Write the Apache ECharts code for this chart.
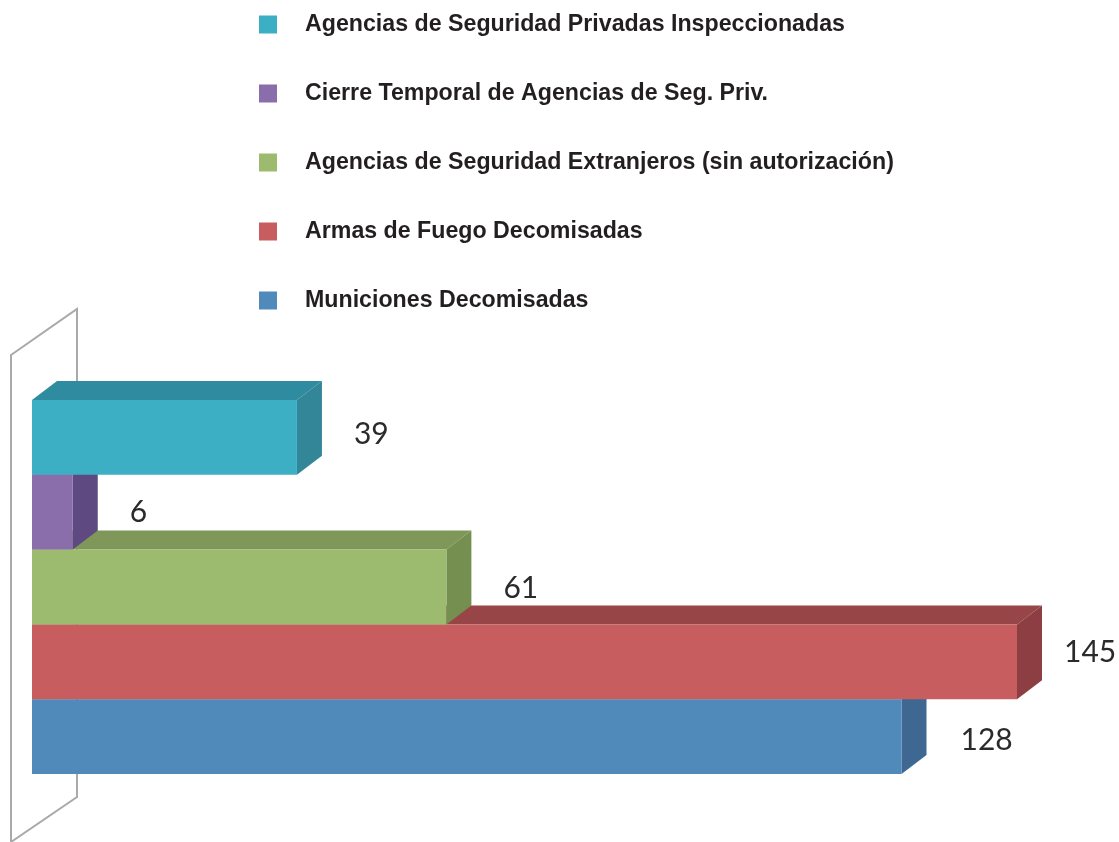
<!DOCTYPE html>
<html>
<head>
<meta charset="utf-8">
<style>html,body{margin:0;padding:0;background:#fff}#c{width:1119px;height:842px}</style>
<script src="https://cdn.jsdelivr.net/npm/echarts@6/dist/echarts.min.js"></script>
</head>
<body>
<div id="c"></div>
<script>
const seriesNames = [
  'Agencias de Seguridad Privadas Inspeccionadas',
  'Cierre Temporal de Agencias de Seg. Priv.',
  'Agencias de Seguridad Extranjeros (sin autorización)',
  'Armas de Fuego Decomisadas',
  'Municiones Decomisadas'
];
const seriesValues = [39, 6, 61, 145, 128];
const frontColors = ['#3cafc5', '#8a6dab', '#9dbb6e', '#c75d5f', '#4f8aba'];
const topColors   = ['#2f8ca0', '#6d5489', '#7f9859', '#984548', '#3f6e96'];
const sideColors  = ['#338598', '#5e4a80', '#748f50', '#8d3e42', '#3e6892'];
const labelNudges = [[57, -3], [57, 0], [57, 1], [47, -9], [59, 4]];
const depth = [25, -19];

function renderBar(i) {
  return function (params, api) {
    const v = api.value(0), c = api.value(1);
    const end = api.coord([v, c]);
    const start = api.coord([0, c]);
    const h = api.size([0, 1])[1];
    const t = end[1] - h / 2, b = end[1] + h / 2;
    const x0 = start[0], x1 = end[0];
    const dx = depth[0], dy = depth[1];
    return {
      type: 'group',
      children: [
        { type: 'polygon', shape: { points: [[x0, t], [x0 + dx, t + dy], [x1 + dx, t + dy], [x1, t]] }, style: { fill: topColors[i] } },
        { type: 'polygon', shape: { points: [[x1, t], [x1 + dx, t + dy], [x1 + dx, b + dy], [x1, b]] }, style: { fill: sideColors[i] } },
        { type: 'rect', shape: { x: x0, y: t, width: x1 - x0, height: b - t }, style: { fill: frontColors[i] } },
        { type: 'text', style: { text: String(v), x: x1 + labelNudges[i][0], y: end[1] + labelNudges[i][1],
            fill: '#2b2b2b', font: '30px Lato', textAlign: 'left', textVerticalAlign: 'middle' } }
      ]
    };
  };
}

const chart = echarts.init(document.getElementById('c'), null, { renderer: 'canvas' });
chart.setOption({
  animation: false,
  backgroundColor: '#fff',
  grid: { left: 32, top: 400, width: 985, height: 374, containLabel: false },
  xAxis: { type: 'value', min: 0, max: 145, show: false },
  yAxis: { type: 'category', inverse: true, data: seriesNames, show: false },
  legend: {
    orient: 'vertical', left: 259, top: 13, padding: 0, itemWidth: 18, itemHeight: 18, itemGap: 46, icon: 'rect',
    data: seriesNames, selectedMode: false,
    textStyle: { fontFamily: 'Liberation Sans', fontWeight: 'bold', fontSize: 23.2, color: '#231f20', padding: [0, 0, 0, 23] }
  },
  graphic: [{
    type: 'polygon', z: -1,
    shape: { points: [[11, 355], [77, 309], [77, 797], [11, 842]] },
    style: { fill: '#fff', stroke: '#a9a9a9', lineWidth: 2 }
  }],
  series: seriesNames.map((name, i) => ({
    type: 'custom', name, z: 10 - i,
    coordinateSystem: 'cartesian2d',
    itemStyle: { color: frontColors[i] },
    renderItem: renderBar(i),
    encode: { x: 0, y: 1 },
    data: [[seriesValues[i], i]]
  }))
});
</script>
</body>
</html>
